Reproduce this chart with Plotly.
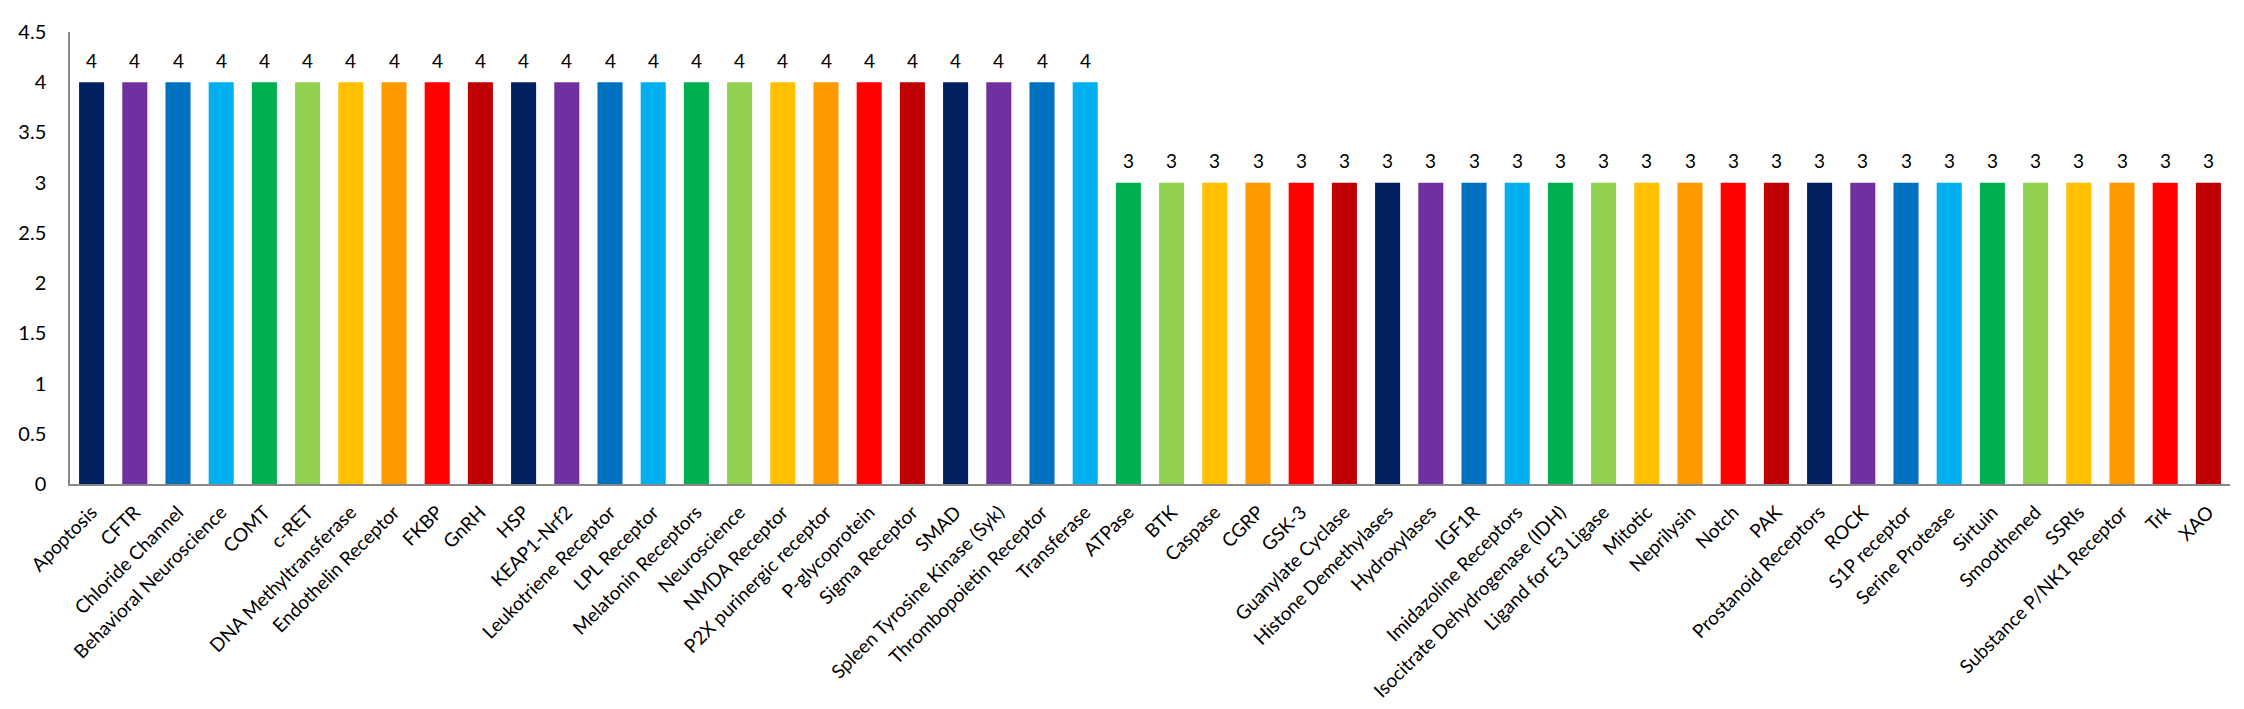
import plotly.graph_objects as go

categories = [
    "Apoptosis", "CFTR", "Chloride Channel", "Behavioral Neuroscience", "COMT", "c-RET",
    "DNA Methyltransferase", "Endothelin Receptor", "FKBP", "GnRH", "HSP", "KEAP1-Nrf2",
    "Leukotriene Receptor", "LPL Receptor", "Melatonin Receptors", "Neuroscience",
    "NMDA Receptor", "P2X purinergic receptor", "P-glycoprotein", "Sigma Receptor", "SMAD",
    "Spleen Tyrosine Kinase (Syk)", "Thrombopoietin Receptor", "Transferase",
    "ATPase", "BTK", "Caspase", "CGRP", "GSK-3", "Guanylate Cyclase", "Histone Demethylases",
    "Hydroxylases", "IGF1R", "Imidazoline Receptors", "Isocitrate Dehydrogenase (IDH)",
    "Ligand for E3 Ligase", "Mitotic", "Neprilysin", "Notch", "PAK", "Prostanoid Receptors",
    "ROCK", "S1P receptor", "Serine Protease", "Sirtuin", "Smoothened", "SSRIs",
    "Substance P/NK1 Receptor", "Trk", "XAO",
]
values = [4] * 24 + [3] * 26

y_ticks = [0, 0.5, 1, 1.5, 2, 2.5, 3, 3.5, 4, 4.5]

palette = ["#002060", "#7030A0", "#0070C0", "#00B0F0", "#00B050",
           "#92D050", "#FFC000", "#FF9900", "#FF0000", "#C00000"]
colors = [palette[i % len(palette)] for i in range(len(categories))]

FONT = "Lato"

fig = go.Figure(go.Bar(
    x=categories,
    y=values,
    marker=dict(color=colors, line=dict(width=0)),
    cliponaxis=False,
))

for c, v in zip(categories, values):
    fig.add_annotation(
        x=c, y=v, text=str(v), showarrow=False,
        yanchor="middle", yshift=22,
        font=dict(family=FONT, size=19, color="#000000"),
    )

fig.update_layout(
    width=2244, height=709,
    margin=dict(l=62, r=22, t=24, b=233),
    plot_bgcolor="white", paper_bgcolor="white",
    bargap=0.42,
    showlegend=False,
    font=dict(family=FONT, size=18, color="#000000"),
    xaxis=dict(
        tickangle=-45,
        showline=True, linecolor="#898989", linewidth=1.5,
        showgrid=False, ticks="",
        tickfont=dict(family=FONT, size=19, color="#000000"),
        ticklabelstandoff=8,
        automargin=False,
    ),
    yaxis=dict(
        range=[0, 4.5],
        tickvals=y_ticks,
        ticktext=[("%g" % t) for t in y_ticks],
        showline=True, linecolor="#898989", linewidth=1.5,
        showgrid=False, ticks="", zeroline=False,
        tickfont=dict(family=FONT, size=20, color="#000000"),
        ticklabelstandoff=18,
        automargin=False,
    ),
)

fig.write_html("out.html")
